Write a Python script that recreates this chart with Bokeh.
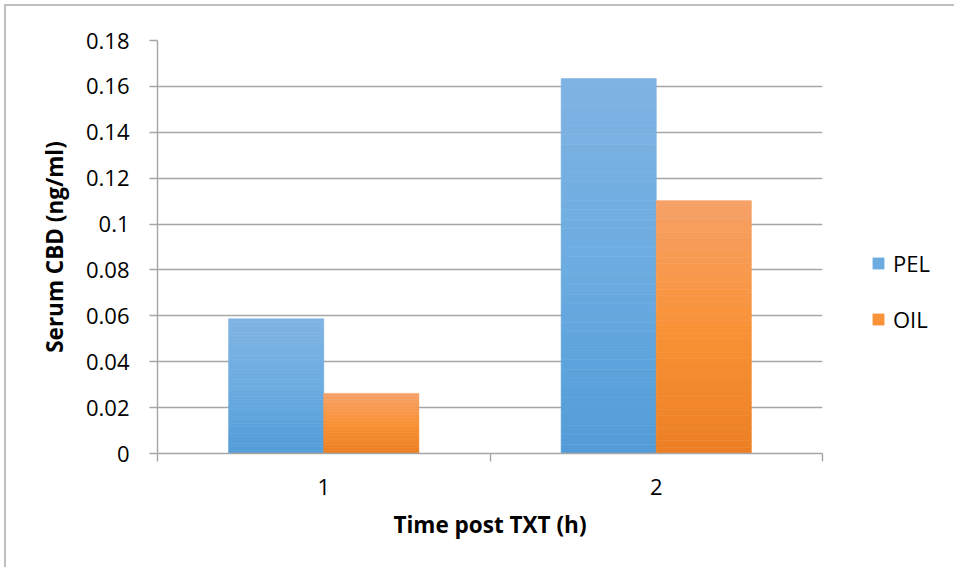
import numpy as np
from bokeh.plotting import figure
from bokeh.models import FixedTicker, Legend, LegendItem, ColumnDataSource, Range1d
from bokeh.embed import file_html
from bokeh.resources import INLINE

# ---- data ----
categories = ["1", "2"]
series_names = ["PEL", "OIL"]
pel = [0.0587, 0.1634]
oil = [0.0262, 0.1102]
y_ticks = [0, 0.02, 0.04, 0.06, 0.08, 0.10, 0.12, 0.14, 0.16, 0.18]
y_tick_labels = ["0", "0.02", "0.04", "0.06", "0.08", "0.1", "0.12", "0.14", "0.16", "0.18"]
x_title = "Time post TXT (h)"
y_title = "Serum CBD (ng/ml)"

# ---- style ----
FONT = "Open Sans"
GRID = "#A6A6A6"
BAR_W = 0.286
N_BANDS = 40
PEL_STOPS = [(127, 179, 227), (108, 172, 225), (82, 156, 215)]
OIL_STOPS = [(246, 161, 104), (249, 146, 55), (236, 127, 34)]


def lerp_stops(stops, t):
    # t = 0 at top, 1 at bottom
    if t <= 0.5:
        a, b, f = stops[0], stops[1], t / 0.5
    else:
        a, b, f = stops[1], stops[2], (t - 0.5) / 0.5
    c = [int(round(a[k] + (b[k] - a[k]) * f)) for k in range(3)]
    return "#%02x%02x%02x" % tuple(c)


def band_source(vals, offset, stops):
    xs, bots, tops, cols = [], [], [], []
    for i, v in enumerate(vals):
        for j in range(N_BANDS):
            xs.append(i + 1 + offset)
            bots.append(v * j / N_BANDS)
            tops.append(v * (j + 1) / N_BANDS)
            cols.append(lerp_stops(stops, 1 - (j + 0.5) / N_BANDS))
    return ColumnDataSource(dict(x=xs, bottom=bots, top=tops, color=cols))


p = figure(
    frame_width=665, frame_height=413,
    x_range=Range1d(0.5, 2.5), y_range=Range1d(0, 0.18),
    output_backend="svg", toolbar_location=None,
    min_border_left=151, min_border_top=34, min_border_right=20, min_border_bottom=114,
    background_fill_color="white", border_fill_color="white",
)
p.outline_line_color = None
p.styles = {"border-top": "2px solid #BFBFBF", "border-left": "2px solid #BFBFBF",
            "margin-top": "4px", "margin-left": "4px"}

src_pel = band_source(pel, -BAR_W / 2, PEL_STOPS)
src_oil = band_source(oil, BAR_W / 2, OIL_STOPS)
r_pel = p.vbar(x="x", width=BAR_W, bottom="bottom", top="top", fill_color="color",
               line_color="color", line_width=0.6, source=src_pel)
r_oil = p.vbar(x="x", width=BAR_W, bottom="bottom", top="top", fill_color="color",
               line_color="color", line_width=0.6, source=src_oil)

# grid
p.xgrid.grid_line_color = None
p.ygrid.ticker = FixedTicker(ticks=y_ticks)
p.ygrid.grid_line_color = GRID
p.ygrid.grid_line_width = 1.4

# y axis
ya = p.yaxis[0]
ya.ticker = FixedTicker(ticks=y_ticks)
ya.major_label_overrides = {t: l for t, l in zip(y_ticks, y_tick_labels)}
ya.axis_line_color = GRID
ya.axis_line_width = 1.4
ya.major_tick_line_color = GRID
ya.major_tick_line_width = 1.4
ya.major_tick_in = 0
ya.major_tick_out = 8
ya.minor_tick_line_color = None
ya.major_label_standoff = 20
ya.major_label_text_font = FONT
ya.major_label_text_font_size = "22px"
ya.major_label_text_color = "black"
ya.axis_label = y_title
ya.axis_label_text_font = FONT
ya.axis_label_text_font_style = "bold"
ya.axis_label_text_font_size = "22.5px"
ya.axis_label_text_color = "black"
ya.axis_label_standoff = 13

# x axis
xa = p.xaxis[0]
xa.ticker = FixedTicker(ticks=[1, 2], minor_ticks=[0.5, 1.5, 2.5])
xa.major_label_overrides = {i + 1: c for i, c in enumerate(categories)}
xa.axis_line_color = GRID
xa.axis_line_width = 1.4
xa.major_tick_line_color = None
xa.major_tick_in = 0
xa.major_tick_out = 0
xa.minor_tick_line_color = GRID
xa.minor_tick_line_width = 1.4
xa.minor_tick_in = 0
xa.minor_tick_out = 8
xa.major_label_standoff = 17
xa.major_label_text_font = FONT
xa.major_label_text_font_size = "22px"
xa.major_label_text_color = "black"
xa.axis_label = x_title
xa.axis_label_text_font = FONT
xa.axis_label_text_font_style = "bold"
xa.axis_label_text_font_size = "22.5px"
xa.axis_label_text_color = "black"
xa.axis_label_standoff = 11

# legend in the right panel
lg = Legend(items=[LegendItem(label=series_names[0], renderers=[r_pel], index=N_BANDS // 2),
                   LegendItem(label=series_names[1], renderers=[r_oil], index=N_BANDS // 2)],
            location=(49, 119))
lg.padding = 0
lg.margin = 0
lg.spacing = 26
lg.border_line_color = None
lg.background_fill_alpha = 0
lg.glyph_width = 14
lg.glyph_height = 14
lg.label_standoff = 8
lg.label_text_font = FONT
lg.label_text_font_size = "22px"
lg.label_text_color = "black"
p.add_layout(lg, "right")

open("out.html", "w").write(file_html(p, INLINE))
